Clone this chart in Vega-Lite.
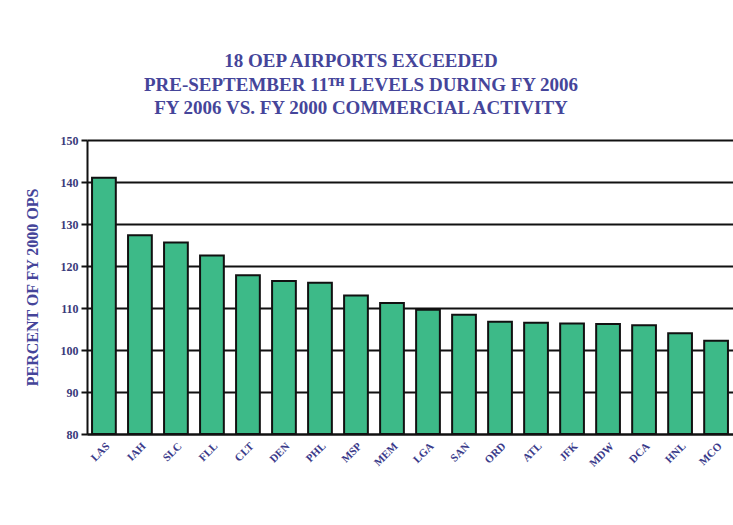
{
  "$schema": "https://vega.github.io/schema/vega-lite/v6.json",
  "autosize": "none",
  "width": 646,
  "height": 294,
  "padding": {"left": 87, "top": 140, "right": 0, "bottom": 91},
  "background": "white",
  "title": {
    "text": ["18 OEP AIRPORTS EXCEEDED", "PRE-SEPTEMBER 11ᵀᴴ LEVELS DURING FY 2006", "FY 2006 VS. FY 2000 COMMERCIAL ACTIVITY"],
    "font": "Liberation Serif",
    "fontSize": 19,
    "fontWeight": "bold",
    "color": "#45459a",
    "lineHeight": 23.5,
    "anchor": "middle",
    "frame": "group",
    "dx": -49,
    "offset": 16
  },
  "data": {
    "values": [
      {"airport": "LAS", "pct": 141.0},
      {"airport": "IAH", "pct": 127.3},
      {"airport": "SLC", "pct": 125.6},
      {"airport": "FLL", "pct": 122.5},
      {"airport": "CLT", "pct": 117.8},
      {"airport": "DEN", "pct": 116.4},
      {"airport": "PHL", "pct": 116.0},
      {"airport": "MSP", "pct": 113.0},
      {"airport": "MEM", "pct": 111.2},
      {"airport": "LGA", "pct": 109.6},
      {"airport": "SAN", "pct": 108.4},
      {"airport": "ORD", "pct": 106.7},
      {"airport": "ATL", "pct": 106.5},
      {"airport": "JFK", "pct": 106.3},
      {"airport": "MDW", "pct": 106.2},
      {"airport": "DCA", "pct": 105.9},
      {"airport": "HNL", "pct": 104.0},
      {"airport": "MCO", "pct": 102.2}
    ]
  },
  "mark": {"type": "bar", "fill": "#3dba88", "stroke": "#111111", "strokeWidth": 2},
  "encoding": {
    "x": {
      "field": "airport",
      "type": "nominal",
      "sort": null,
      "scale": {"paddingInner": 0.34, "paddingOuter": 0.14},
      "axis": {
        "title": null,
        "labelAngle": -45,
        "labelFont": "Liberation Serif",
        "labelFontWeight": "bold",
        "labelFontSize": 11,
        "labelColor": "#3a3a8a",
        "ticks": false,
        "labelPadding": 6,
        "domainColor": "#111111",
        "domainWidth": 2
      }
    },
    "y": {
      "field": "pct",
      "type": "quantitative",
      "scale": {"domain": [80, 150], "zero": false, "nice": false},
      "axis": {
        "title": "PERCENT OF FY 2000 OPS",
        "titleFont": "Liberation Serif",
        "titleFontWeight": "bold",
        "titleFontSize": 16,
        "titleColor": "#45459a",
        "titlePadding": 20,
        "values": [80, 90, 100, 110, 120, 130, 140, 150],
        "labelFont": "Liberation Serif",
        "labelFontWeight": "bold",
        "labelFontSize": 12,
        "labelColor": "#3a3a7a",
        "labelPadding": 3,
        "tickColor": "#111111",
        "tickSize": 6,
        "tickWidth": 2,
        "domainColor": "#111111",
        "domainWidth": 2,
        "grid": true,
        "gridColor": "#111111",
        "gridWidth": 2,
        "gridOpacity": 1
      }
    },
    "y2": {"datum": 80}
  },
  "config": {"view": {"stroke": null}}
}
